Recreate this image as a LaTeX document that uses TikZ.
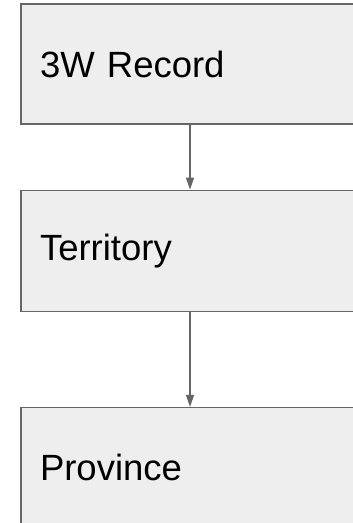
\documentclass[tikz,border=0pt]{standalone}
\usepackage{fontspec}
\setmainfont{Liberation Sans}
\usetikzlibrary{arrows.meta,positioning}
\definecolor{boxfill}{HTML}{EEEEEE}
\definecolor{boxline}{HTML}{666666}
\tikzset{
    entity/.style={draw=boxline, fill=boxfill, line width=1.3pt, rectangle,
        minimum width=338pt, minimum height=120pt, text width=300pt,
        inner xsep=19pt, align=left, font=\fontsize{36.5}{40}\selectfont},
    link/.style={-{Triangle[length=12pt,width=8pt]}, draw=boxline, line width=1.3pt}
}
\begin{document}
\begin{tikzpicture}[x=1pt,y=1pt]
    \useasboundingbox (0,0) rectangle (353,-523);
    \clip (0,0) rectangle (353,-523);
    \node[entity] (record) at (190,-64) {3W Record};
\node[entity, below=65pt of record, minimum height=121pt] (territory) {Territory};
\node[entity, below=95pt of territory] (province) {Province};
\draw[link] (record) -- (territory);
\draw[link] (territory) -- (province);
\end{tikzpicture}
\end{document}
